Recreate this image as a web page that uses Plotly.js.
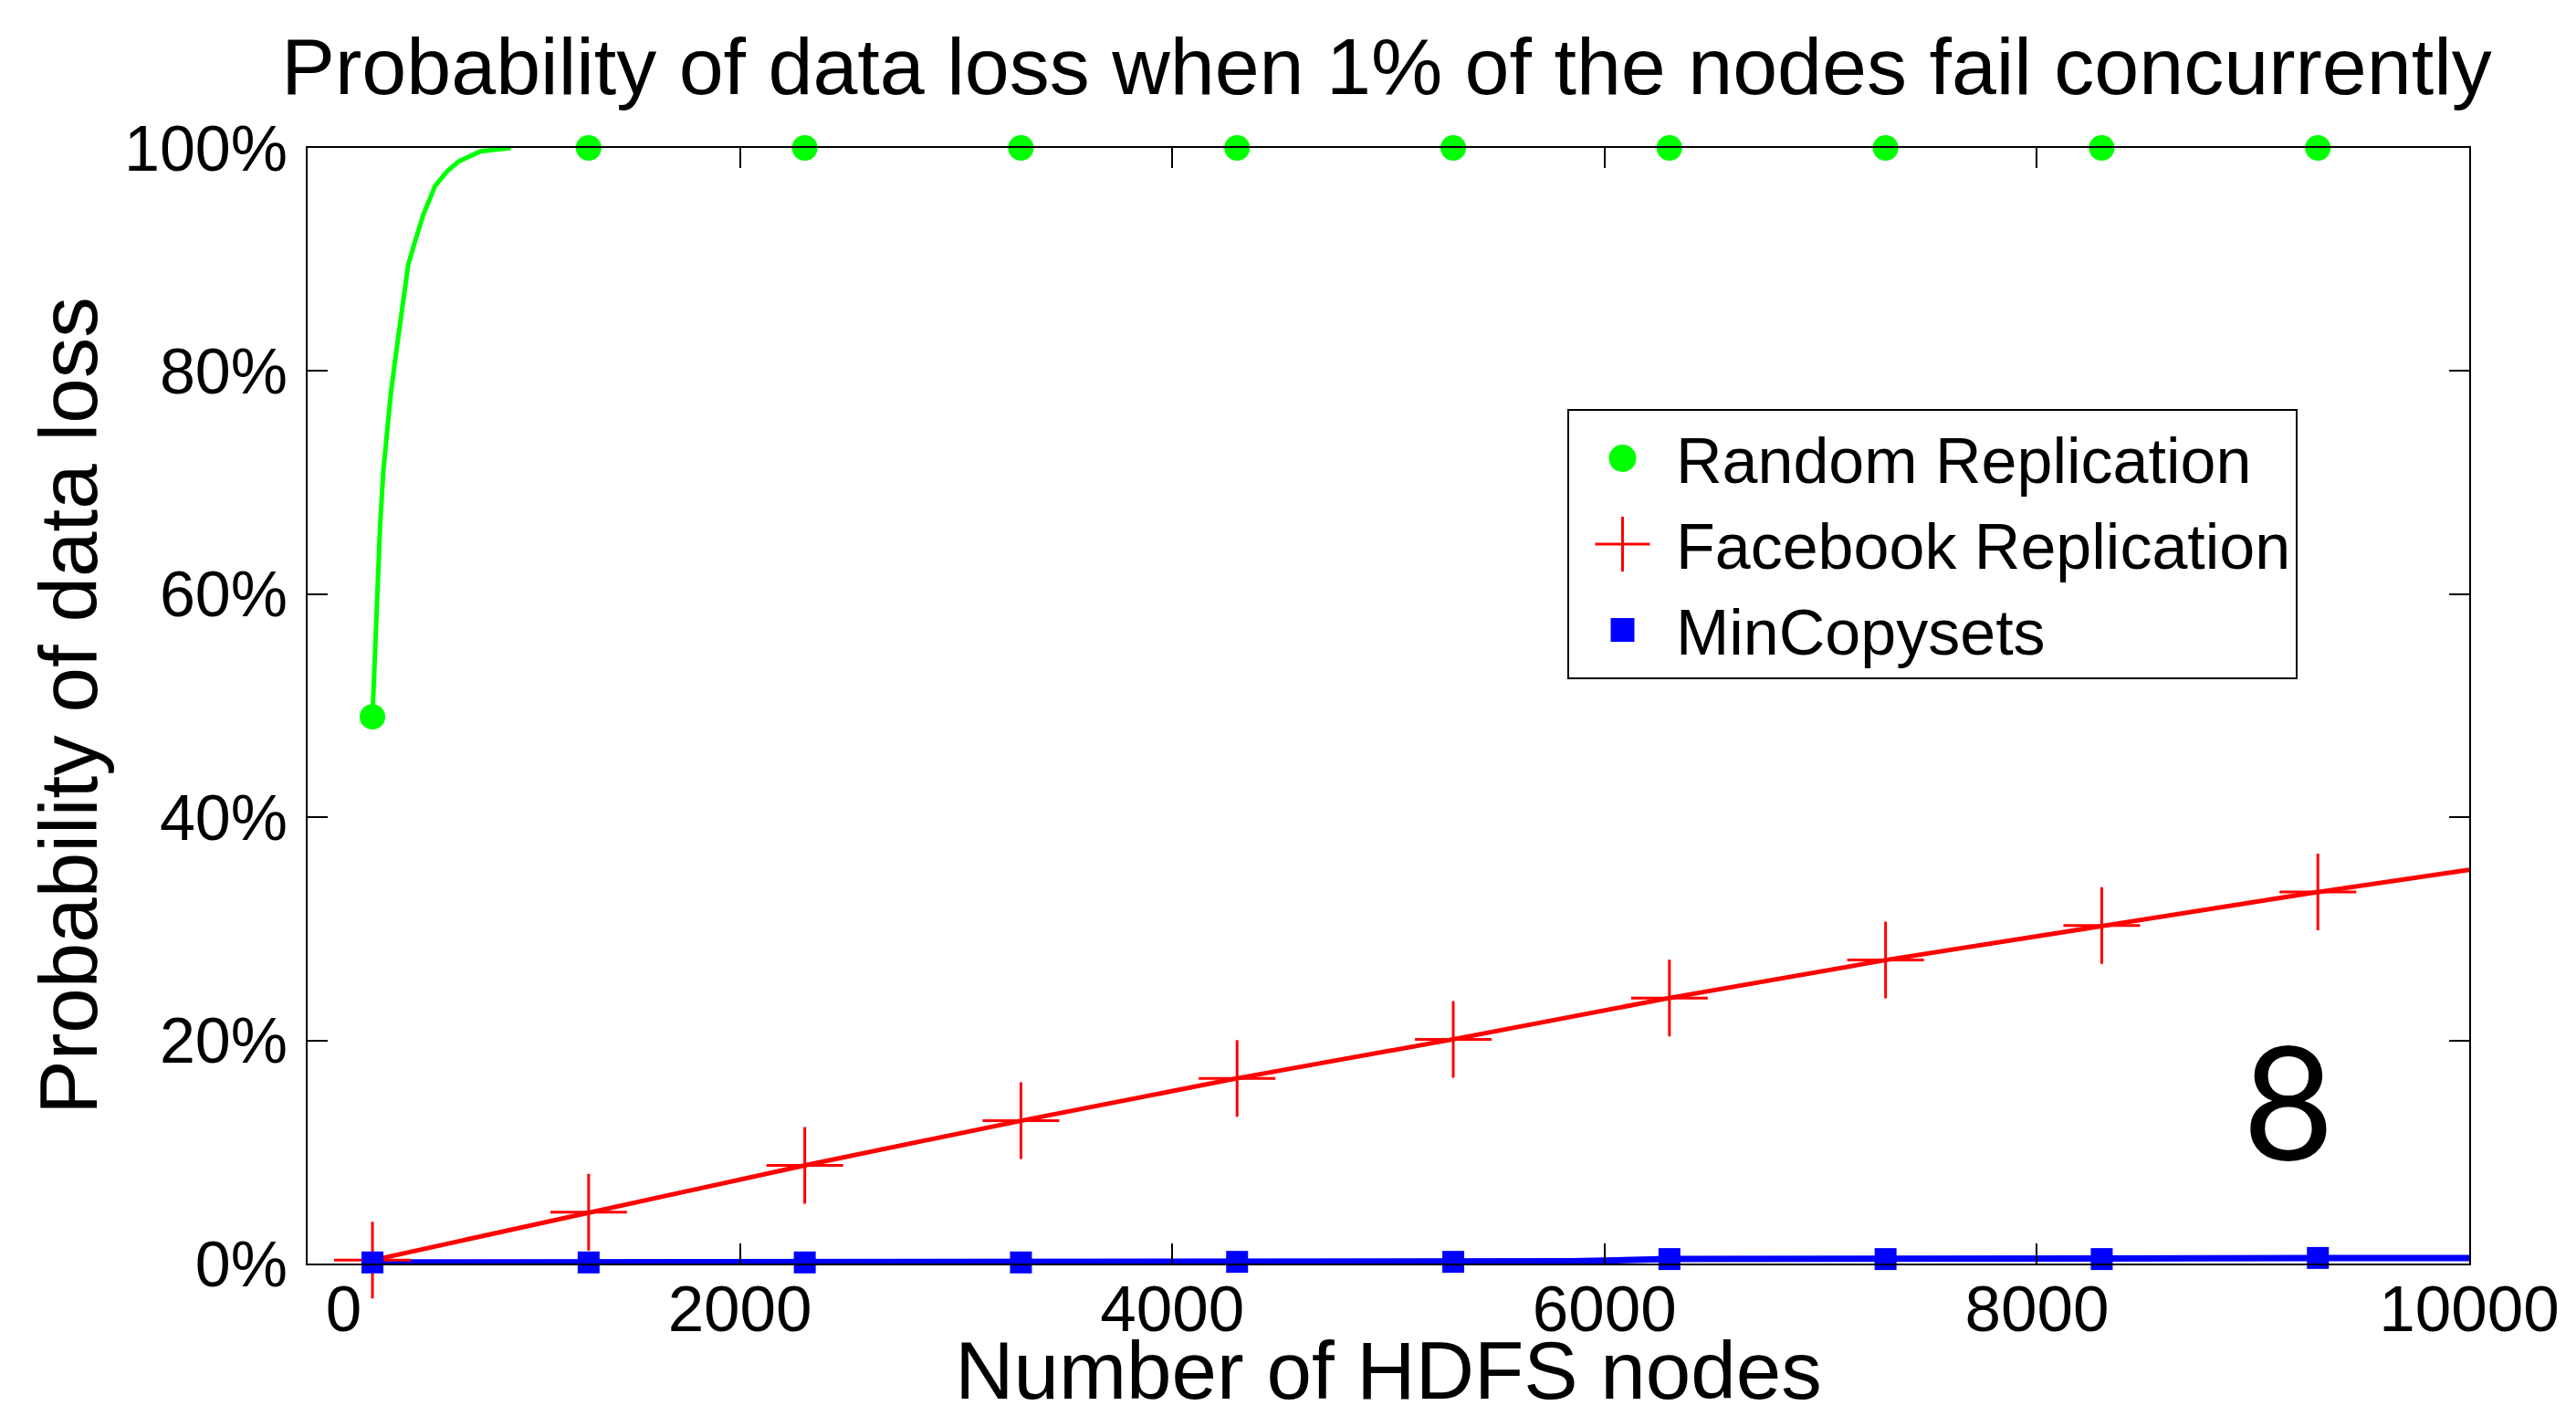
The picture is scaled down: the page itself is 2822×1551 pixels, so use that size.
<!DOCTYPE html>
<html>
<head>
<meta charset="utf-8">
<script src="https://cdn.plot.ly/plotly-3.0.1.min.js"></script>
<style>
  html, body { margin: 0; padding: 0; background: #ffffff; }
  #chart { width: 2822px; height: 1551px; }
</style>
</head>
<body>
<div id="chart"></div>
<script>
// ---- data ----
const randomLineX = [300, 310, 320, 335, 350, 365, 385, 405, 435, 465, 495, 535, 590, 645, 700, 800, 940];
const randomLineY = [49, 54, 60, 66, 71, 74.5, 78, 81, 85, 89.5, 91.5, 94, 96.6, 97.9, 98.8, 99.7, 100];

const markerX = [300, 1300, 2300, 3300, 4300, 5300, 6300, 7300, 8300, 9300];
const randomMarkerY = [49, 100, 100, 100, 100, 100, 100, 100, 100, 100];

const facebookLineX = [300, 1300, 2300, 3300, 4300, 5300, 6300, 7300, 8300, 9300, 10000];
const facebookLineY = [0.3, 4.6, 8.8, 12.8, 16.6, 20.1, 23.8, 27.2, 30.3, 33.3, 35.3];
const facebookMarkerY = [0.3, 4.6, 8.8, 12.8, 16.6, 20.1, 23.8, 27.2, 30.3, 33.3];

const minLineX = [300, 1300, 2300, 3300, 4300, 5300, 5850, 6300, 7300, 8300, 8550, 9300, 10000];
const minLineY = [0.1, 0.1, 0.1, 0.1, 0.15, 0.15, 0.2, 0.4, 0.4, 0.4, 0.45, 0.5, 0.5];
const minMarkerY = [0.1, 0.1, 0.1, 0.1, 0.15, 0.15, 0.4, 0.4, 0.4, 0.5];

const seriesNames = ["Random Replication", "Facebook Replication", "MinCopysets"];
const xTickVals = [0, 2000, 4000, 6000, 8000, 10000];
const xTickText = ["\u00a0\u00a0\u00a0\u00a00", "2000", "4000", "6000", "8000", "10000"];
const yTickVals = [0, 20, 40, 60, 80, 100];
const yTickText = ["0%", "20%", "40%", "60%", "80%", "100%"];

const titleText = "Probability of data loss when 1% of the nodes fail concurrently";
const xTitle = "Number of HDFS nodes";
const yTitle = "Probability of data loss";
const cornerLabel = "8";

// ---- traces ----
const GREEN = "#00ff00", RED = "#ff0000", BLUE = "#0000ff";
const traces = [
  { x: randomLineX, y: randomLineY, mode: "lines", line: { color: GREEN, width: 5 },
    showlegend: false, hoverinfo: "skip", cliponaxis: false },
  { x: facebookLineX, y: facebookLineY, mode: "lines", line: { color: RED, width: 5 },
    showlegend: false, hoverinfo: "skip", cliponaxis: false },
  { x: minLineX, y: minLineY, mode: "lines", line: { color: BLUE, width: 7 },
    showlegend: false, hoverinfo: "skip", cliponaxis: false },
  { x: markerX, y: randomMarkerY, mode: "markers", name: seriesNames[0], cliponaxis: false,
    marker: { symbol: "circle", size: 28, color: GREEN, line: { width: 0 } } },
  { x: markerX, y: facebookMarkerY, mode: "markers", name: seriesNames[1], cliponaxis: false,
    marker: { symbol: "cross-thin", size: 60, color: RED, line: { color: RED, width: 3 } } },
  { x: markerX, y: minMarkerY, mode: "markers", name: seriesNames[2], cliponaxis: false,
    marker: { symbol: "square", size: 24, color: BLUE, line: { width: 0 } } }
];

const FONT = "'Liberation Sans', Arial, sans-serif";
const layout = {
  width: 2822, height: 1551,
  paper_bgcolor: "#ffffff", plot_bgcolor: "#ffffff",
  margin: { l: 337, r: 117, t: 162, b: 167, autoexpand: false },
  font: { family: FONT, color: "#000000", size: 70 },
  title: { text: titleText, font: { family: FONT, size: 88, color: "#000" },
           x: 1519 / 2822, xanchor: "center", xref: "container", yref: "container", y: 1 - 72 / 1551, yanchor: "middle" },
  xaxis: {
    range: [0, 10000], tickvals: xTickVals, ticktext: xTickText,
    showgrid: false, zeroline: false, showline: true, linecolor: "#000", linewidth: 2, mirror: "ticks",
    ticks: "inside", ticklen: 22, tickwidth: 2, tickcolor: "#000",
    tickfont: { family: FONT, size: 71 }, ticklabelstandoff: -13,
    title: { text: xTitle, font: { family: FONT, size: 89 }, standoff: 55 }
  },
  yaxis: {
    range: [0, 100], tickvals: yTickVals, ticktext: yTickText,
    showgrid: false, zeroline: false, showline: true, linecolor: "#000", linewidth: 2, mirror: "ticks",
    ticks: "inside", ticklen: 22, tickwidth: 2, tickcolor: "#000",
    tickfont: { family: FONT, size: 70 }, ticklabelstandoff: 6,
    title: { text: yTitle, font: { family: FONT, size: 89 }, standoff: 0 }
  },
  legend: {
    x: (1717 - 337) / 2368, y: (1384 - 448) / 1222, xanchor: "left", yanchor: "top",
    bgcolor: "#ffffff", bordercolor: "#000000", borderwidth: 2,
    font: { family: FONT, size: 70 }, itemwidth: 107, traceorder: "normal"
  },
  annotations: [
    { text: cornerLabel, xref: "paper", yref: "paper", x: (2507 - 337) / 2368, y: (1384 - 1204) / 1222,
      xanchor: "center", yanchor: "middle", showarrow: false,
      font: { family: "Lato, 'Open Sans', sans-serif", size: 172, color: "#000" } }
  ],
  showlegend: true
};

Plotly.newPlot("chart", traces, layout, { displayModeBar: false, staticPlot: true }).then(function (gd) {
  // enlarge legend symbols to match the plotted marker sizes (Plotly caps them at 16px)
  const symbolPaths = [
    function (r) { return "M" + r + ",0A" + r + "," + r + " 0 1,1 0,-" + r + "A" + r + "," + r + " 0 0,1 " + r + ",0Z"; },
    function (r) { return "M0," + r + "V-" + r + "M" + r + ",0H-" + r; },
    function (r) { return "M" + r + "," + r + "H-" + r + "V-" + r + "H" + r + "Z"; }
  ];
  const radii = [15, 30, 13];
  const items = gd.querySelectorAll(".legend .traces");
  items.forEach(function (item, i) {
    const p = item.querySelector(".legendpoints path.scatterpts");
    if (p && symbolPaths[i]) {
      p.setAttribute("d", symbolPaths[i](radii[i]));
      if (i === 1) { p.style.strokeWidth = "3px"; }
    }
  });
});
</script>
</body>
</html>
